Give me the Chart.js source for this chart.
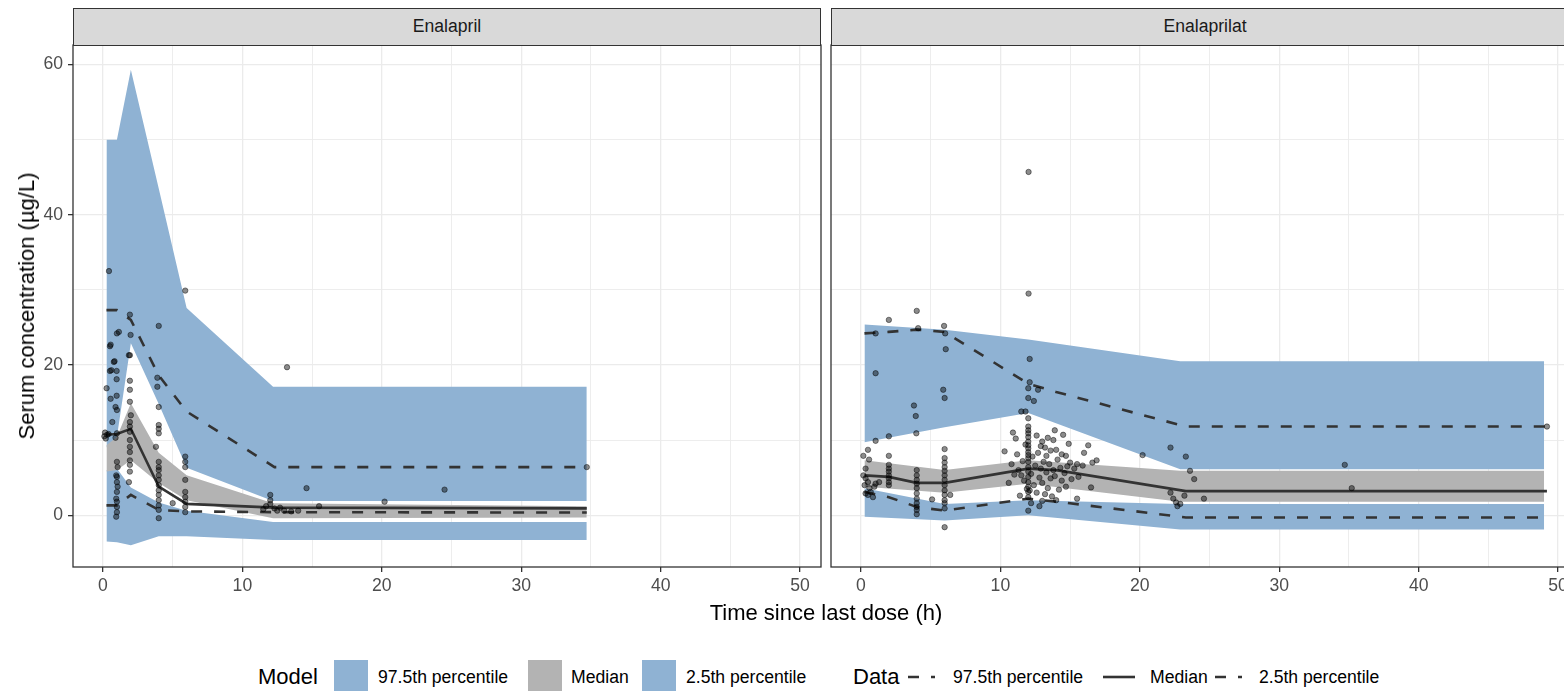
<!DOCTYPE html>
<html>
<head>
<meta charset="utf-8">
<title>Enalapril / Enalaprilat VPC</title>
<script src="https://cdn.jsdelivr.net/npm/chart.js@4.4.1/dist/chart.umd.min.js"></script>
<style>
  html, body { margin: 0; padding: 0; width: 1564px; height: 691px; overflow: hidden; background: #fff; }
  #wrap { position: relative; width: 1564px; height: 691px; overflow: hidden; font-family: "Liberation Sans", Arial, sans-serif; }
  #wrap canvas { position: absolute; top: 0; }
  .strip { position: absolute; top: 8px; height: 38px; box-sizing: border-box; background: #D9D9D9; border: 1.3px solid #333333;
           font-size: 17.6px; color: #1A1A1A; text-align: center; line-height: 35px; }
  .title { position: absolute; font-size: 22px; line-height: 22px; color: #000; white-space: nowrap; }
  .lg { position: absolute; white-space: nowrap; color: #000; }
  .lg.txt { font-size: 17.6px; line-height: 18px; top: 668px; }
  .lg.head { font-size: 22px; line-height: 22px; top: 666px; }
  .lg.box { top: 660px; width: 34px; height: 34px; }
  .lg.key { top: 659px; }
</style>
</head>
<body>
<div id="wrap">
  <canvas id="panelEnalapril" width="826" height="610" style="left:0px"></canvas>
  <canvas id="panelEnalaprilat" width="760" height="610" style="left:826px"></canvas>

  <div class="strip" style="left:73px;width:748px">Enalapril</div>
  <div class="strip" style="left:831px;width:748px">Enalaprilat</div>

  <div class="title" style="left:27px;top:306px;transform:translate(-50%,-50%) rotate(-90deg)">Serum concentration (µg/L)</div>
  <div class="title" style="left:826px;top:602px;transform:translateX(-50%)">Time since last dose (h)</div>

  <!-- legend -->
  <div class="lg head" style="left:258px">Model</div>
  <div class="lg box" style="left:334px;background:#8FB2D3"></div>
  <div class="lg txt" style="left:378px">97.5th percentile</div>
  <div class="lg box" style="left:528px;background:#B3B3B3"></div>
  <div class="lg txt" style="left:571px">Median</div>
  <div class="lg box" style="left:642px;background:#8FB2D3"></div>
  <div class="lg txt" style="left:686px">2.5th percentile</div>

  <div class="lg head" style="left:853px">Data</div>
  <svg class="lg key" style="left:905px" width="36" height="36"><line x1="3" y1="18" x2="30" y2="18" stroke="#333333" stroke-width="2.6" stroke-dasharray="11 12"/></svg>
  <div class="lg txt" style="left:953px">97.5th percentile</div>
  <svg class="lg key" style="left:1101px" width="36" height="36"><line x1="2" y1="18" x2="34" y2="18" stroke="#333333" stroke-width="2.6"/></svg>
  <div class="lg txt" style="left:1150px">Median</div>
  <svg class="lg key" style="left:1212px" width="36" height="36"><line x1="3" y1="18" x2="30" y2="18" stroke="#333333" stroke-width="2.6" stroke-dasharray="11 12"/></svg>
  <div class="lg txt" style="left:1259px">2.5th percentile</div>
</div>

<script>
// ---- axis ticks -------------------------------------------------------
const xTickLabels = [0, 10, 20, 30, 40, 50];
const xGridValues = [0, 5, 10, 15, 20, 25, 30, 35, 40, 45, 50];
const yTickLabels = [0, 20, 40, 60];
const yGridValues = [0, 10, 20, 30, 40, 50, 60];

// ---- Enalapril: simulated percentile bands (model) ---------------------
const enalaprilModelTime  = [0.25, 1, 2, 4, 6, 12.2, 34.7];
const enalaprilP975Upper  = [50, 50, 59.3, 43.5, 27.6, 17.1, 17.1];
const enalaprilP975Lower  = [9.0, 10.4, 22.9, 14.8, 6.3, 1.9, 1.9];
const enalaprilMedUpper   = [9.3, 10.4, 14.9, 8.3, 5.3, 1.6, 1.2];
const enalaprilMedLower   = [5.8, 6.0, 7.3, 4.3, 2.0, -0.4, -0.3];
const enalaprilP025Upper  = [6.0, 6.2, 3.7, 1.7, 0.6, -0.9, -0.9];
const enalaprilP025Lower  = [-3.5, -3.6, -4.0, -2.8, -2.8, -3.3, -3.3];

// ---- Enalapril: observed percentiles ------------------------------------
const enalaprilObsTime    = [0.25, 1, 2, 4, 6, 12.3, 34.7];
const enalaprilObsP975    = [27.3, 27.3, 26.0, 18.6, 13.8, 6.4, 6.4];
const enalaprilObsMedian  = [10.7, 10.8, 11.5, 3.8, 1.5, 1.0, 0.9];
const enalaprilObsP025    = [1.3, 1.3, 2.7, 0.7, 0.5, 0.4, 0.35];

// ---- Enalapril: observations -------------------------------------------
const enalaprilSampleTime = [
  0.43, 5.9, 1.93, 1.14, 1.0, 4.0, 1.98, 0.55, 0.5, 1.93, 1.86, 0.83, 0.78, 0.5, 0.98, 0.6, 0.98, 3.9, 1.93, 0.26,
  1.93, 3.9, 0.98, 0.55, 1.93, 4.0, 0.9, 1.0, 2.0, 0.67, 1.93, 4.0, 4.0, 4.0, 0.1, 0.15, 0.3, 0.4, 0.2, 1.0,
  0.9, 1.93, 1.93, 1.93, 1.93, 1.93, 1.93, 1.93, 1.93, 1.86, 3.8, 4.0, 4.0, 4.0, 4.0, 4.0, 4.0, 4.0, 4.0, 4.0,
  4.0, 4.0, 4.0, 1.0, 1.05, 0.95, 1.0, 1.0, 1.05, 1.0, 0.95, 1.0, 1.0, 1.0, 0.95, 5.9, 5.9, 5.9, 5.9, 5.9,
  5.9, 5.9, 5.9, 5.9, 5.0, 13.2, 14.6, 15.5, 12.0, 12.0, 12.0, 11.7, 12.3, 12.5, 13.0, 13.5, 11.5, 12.7, 14.0, 20.2,
  24.5, 34.7
];
const enalaprilSampleConc = [
  32.5, 29.9, 26.7, 24.4, 24.2, 25.2, 24.0, 22.7, 22.5, 21.3, 21.3, 20.5, 20.4, 19.2, 19.2, 19.3, 18.1, 18.3, 17.9, 16.9,
  16.7, 17.1, 15.9, 15.5, 15.1, 14.4, 14.4, 14.0, 13.3, 12.4, 12.4, 12.0, 11.5, 10.9, 10.5, 11.0, 10.7, 10.8, 10.2, 10.9,
  10.3, 11.8, 11.1, 10.0, 9.1, 8.4, 7.3, 6.7, 5.8, 4.4, 9.1, 7.1, 6.4, 6.0, 5.3, 4.7, 4.0, 3.3, 2.7, 2.0,
  1.3, 0.7, -0.4, 7.1, 6.4, 5.3, 5.1, 4.4, 3.8, 3.1, 2.2, 1.8, 1.1, 0.4, -0.2, 7.8, 7.1, 6.4, 4.7, 3.1,
  2.4, 1.8, 1.1, 0.4, 1.6, 19.7, 3.6, 1.2, 2.7, 2.0, 1.5, 1.2, 0.9, 0.6, 0.6, 0.5, 0.8, 1.0, 0.6, 1.8,
  3.4, 6.4
];

// ---- Enalaprilat: simulated percentile bands (model) -------------------
const enalaprilatModelTime = [0.25, 6, 12, 22.9, 49];
const enalaprilatP975Upper = [25.4, 24.7, 23.4, 20.5, 20.5];
const enalaprilatP975Lower = [9.7, 11.7, 13.6, 6.1, 6.1];
const enalaprilatMedUpper  = [7.3, 6.0, 7.3, 5.9, 5.9];
const enalaprilatMedLower  = [3.8, 3.0, 4.2, 1.8, 1.8];
const enalaprilatP025Upper = [3.6, 1.5, 2.0, 1.5, 1.5];
const enalaprilatP025Lower = [-0.2, -0.7, 0.0, -1.9, -1.9];

// ---- Enalaprilat: observed percentiles ----------------------------------
const enalaprilatObsTime   = [0.25, 2, 4, 6, 12, 14, 23.3, 49.2];
const enalaprilatObsP975   = [24.2, 24.4, 24.7, 24.4, 17.5, 16.4, 11.8, 11.8];
const enalaprilatObsMedian = [5.3, 5.1, 4.3, 4.3, 6.2, 6.0, 3.2, 3.2];
const enalaprilatObsP025   = [3.1, 2.4, 1.1, 0.6, 2.2, 1.8, -0.3, -0.3];

// ---- Enalaprilat: observations -----------------------------------------
const enalaprilatSampleTime = [
  0.33, 0.17, 0.33, 0.5, 0.26, 0.6, 0.96, 0.7, 1.05, 1.3, 0.33, 0.5, 0.86, 0.17, 0.5, 0.58,
  2.0, 2.0, 2.0, 2.0, 2.0, 2.0, 2.0, 2.0, 2.0, 2.0,
  4.0, 4.1, 3.8, 3.93, 3.97, 4.0, 4.0, 4.0, 4.0, 4.0, 4.0, 4.0, 4.0, 4.0, 4.0, 4.0,
  5.96, 6.04, 6.08, 5.9, 6.0, 6.0, 6.0, 6.0, 6.0, 6.0, 6.0, 6.0, 6.0, 6.0, 6.0, 6.0, 6.0, 6.0, 6.0, 6.4, 5.1,
  1.05, 1.05, 1.05,
  12.02, 12.02, 12.1, 12.1, 12.0, 12.7, 12.0, 12.4, 11.5, 11.8, 12.0,
  12.0, 12.0, 12.0, 12.0, 12.0, 12.0, 12.0, 12.0, 12.0, 12.0, 12.0, 12.0, 12.0, 12.0, 12.0, 12.0, 12.0, 12.0, 12.0,
  10.9, 10.3, 11.1, 13.0, 13.4, 13.8, 13.2, 14.0, 13.9, 14.5, 16.3, 16.0, 14.7, 15.0, 15.5, 15.3, 15.9, 16.6, 16.9,
  15.6, 14.7, 15.5, 16.5,
  11.3, 11.5, 11.6, 11.7, 11.9, 12.2, 12.3, 12.4, 12.5, 12.6, 12.7, 12.8, 12.9, 13.0, 13.1, 13.2, 13.3, 13.4, 13.5,
  13.6, 13.7, 13.8, 13.9, 14.1, 14.2, 14.3, 14.4, 14.6, 14.8, 15.1, 11.4, 11.8, 12.1, 13.6, 12.9, 14.9, 11.2, 12.6,
  13.3, 14.4, 10.8, 11.0, 10.6, 12.2, 13.0, 14.0, 12.8,
  20.2, 22.2, 23.3, 23.6, 23.9, 24.6, 22.2, 22.4, 22.6, 22.9, 23.2, 22.7, 34.7, 35.2, 49.2
];
const enalaprilatSampleConc = [
  6.2, 5.3, 4.9, 4.4, 4.0, 3.6, 3.8, 3.1, 4.2, 4.4, 2.9, 2.7, 2.4, 7.9, 8.7, 7.4,
  26.0, 10.5, 7.9, 6.7, 6.2, 5.8, 5.3, 4.9, 4.4, 4.0,
  27.2, 24.9, 14.6, 13.2, 10.9, 6.0, 5.3, 4.7, 4.2, 3.6, 2.9, 2.2, 1.6, 1.1, 0.7, 0.13,
  25.2, 24.2, 22.1, 16.7, 15.6, 8.8, 7.6, 7.0, 6.4, 5.9, 5.3, 4.7, 4.0, 3.3, 2.0, 1.6, 0.9, -1.6, 2.7, 2.7, 2.1,
  24.2, 18.9, 9.9,
  45.7, 29.5, 20.8, 17.7, 16.9, 16.7, 15.6, 15.2, 13.8, 13.8, 12.9,
  11.8, 11.3, 10.9, 10.4, 9.8, 9.3, 8.9, 8.4, 8.0, 7.6, 7.1, 6.4, 5.8, 5.1, 4.4, 3.8, 3.1, 2.4, 0.6,
  11.0, 8.5, 10.2, 9.8, 10.3, 10.0, 9.0, 8.7, 11.3, 10.7, 9.3, 8.3, 7.9, 7.0, 6.8, 6.2, 6.6, 7.0, 7.3,
  5.1, 3.8, 2.2, 3.7,
  6.0, 5.3, 7.2, 4.6, 3.5, 5.5, 7.8, 4.0, 6.6, 3.0, 8.3, 5.0, 6.2, 4.3, 7.1, 2.8, 5.7, 3.6, 6.8,
  4.9, 2.5, 6.0, 5.2, 7.4, 3.4, 6.3, 4.6, 5.6, 6.5, 4.8, 2.6, 9.4, 3.3, 8.6, 9.2, 9.5, 8.1, 10.6,
  7.9, 8.1, 6.8, 5.4, 4.3, 1.6, 1.9, 2.0, 1.2,
  8.0, 9.0, 7.8, 5.9, 4.8, 2.2, 3.0, 2.2, 1.7, 1.5, 2.6, 1.2, 6.7, 3.6, 11.8
];

// ---- styling -----------------------------------------------------------
const BAND_BLUE = '#8FB2D3';
const BAND_GREY = '#B3B3B3';
const LINE_DARK = '#333333';
const TICK_FONT = { family: '"Liberation Sans", Arial, sans-serif', size: 17.6 };

const pts = (xs, ys) => xs.map((x, i) => ({ x: x, y: ys[i] }));

function bandPair(label, xs, hi, lo, colour, order) {
  const base = { borderColor: 'rgba(0,0,0,0)', borderWidth: 0, pointRadius: 0, tension: 0, order: order };
  return [
    Object.assign({ label: label + ' hi', data: pts(xs, hi), fill: '+1', backgroundColor: colour }, base),
    Object.assign({ label: label + ' lo', data: pts(xs, lo), fill: false }, base)
  ];
}

function obsLine(label, xs, ys, dashed) {
  return { label: label, data: pts(xs, ys), borderColor: LINE_DARK, borderWidth: 2.6, borderDash: dashed ? [11, 12] : [],
           pointRadius: 0, fill: false, tension: 0, order: 10 };
}

const panelFrame = {
  id: 'panelFrame',
  afterDatasetsDraw(chart) {
    const a = chart.chartArea, c = chart.ctx;
    c.save();
    c.strokeStyle = '#333333';
    c.lineWidth = 1.3;
    c.strokeRect(a.left, a.top, a.right - a.left, a.bottom - a.top);
    c.restore();
  }
};

function makePanel(canvasId, m, showY) {
  const datasets = [].concat(
    bandPair('Model 97.5th percentile', m.modelT, m.p975Hi, m.p975Lo, BAND_BLUE, 30),
    bandPair('Model 2.5th percentile', m.modelT, m.p025Hi, m.p025Lo, BAND_BLUE, 29),
    bandPair('Model median', m.modelT, m.medHi, m.medLo, BAND_GREY, 28),
    [
      obsLine('Data 97.5th percentile', m.obsT, m.obs975, true),
      obsLine('Data median', m.obsT, m.obsMed, false),
      obsLine('Data 2.5th percentile', m.obsT, m.obs025, true),
      { label: 'Observations', data: pts(m.sampleT, m.sampleC), showLine: false,
        pointRadius: 2.7, pointBorderWidth: 1,
        pointBackgroundColor: 'rgba(0,0,0,0.45)', pointBorderColor: 'rgba(0,0,0,0.45)', order: 1 }
    ]
  );

  return new Chart(document.getElementById(canvasId), {
    type: 'line',
    data: { datasets: datasets },
    plugins: [panelFrame],
    options: {
      responsive: false,
      animation: false,
      events: [],
      layout: { padding: { top: 45, bottom: 0, left: showY ? 0 : 5, right: showY ? 5 : 7 } },
      plugins: { legend: { display: false }, tooltip: { enabled: false } },
      scales: {
        x: {
          type: 'linear', min: -2.15, max: 51.5,
          afterBuildTicks: s => { s.ticks = xGridValues.map(v => ({ value: v })); },
          afterFit: s => { s.height = 43; },
          border: { display: false },
          grid: {
            color: '#EBEBEB',
            lineWidth: ctx => (xTickLabels.includes(ctx.tick.value) ? 1.3 : 0.9),
            tickLength: 5,
            tickColor: ctx => (xTickLabels.includes(ctx.tick.value) ? '#333333' : 'rgba(0,0,0,0)'),
            tickWidth: 1.3
          },
          ticks: {
            font: TICK_FONT, color: '#4D4D4D', padding: 4, maxRotation: 0, autoSkip: false,
            callback: v => (xTickLabels.includes(v) ? String(v) : '')
          }
        },
        y: {
          type: 'linear', min: -6.9, max: 62.6,
          afterBuildTicks: s => { s.ticks = yGridValues.map(v => ({ value: v })); },
          afterFit: s => { s.width = showY ? 73 : 0; },
          border: { display: false },
          grid: {
            color: '#EBEBEB',
            lineWidth: ctx => (yTickLabels.includes(ctx.tick.value) ? 1.3 : 0.9),
            drawTicks: showY,
            tickLength: 5,
            tickColor: ctx => (yTickLabels.includes(ctx.tick.value) ? '#333333' : 'rgba(0,0,0,0)'),
            tickWidth: 1.3
          },
          ticks: {
            display: showY, font: TICK_FONT, color: '#4D4D4D', padding: 5, autoSkip: false,
            callback: v => (yTickLabels.includes(v) ? String(v) : '')
          }
        }
      }
    }
  });
}

makePanel('panelEnalapril', {
  modelT: enalaprilModelTime,
  p975Hi: enalaprilP975Upper, p975Lo: enalaprilP975Lower,
  medHi: enalaprilMedUpper, medLo: enalaprilMedLower,
  p025Hi: enalaprilP025Upper, p025Lo: enalaprilP025Lower,
  obsT: enalaprilObsTime, obs975: enalaprilObsP975, obsMed: enalaprilObsMedian, obs025: enalaprilObsP025,
  sampleT: enalaprilSampleTime, sampleC: enalaprilSampleConc
}, true);

makePanel('panelEnalaprilat', {
  modelT: enalaprilatModelTime,
  p975Hi: enalaprilatP975Upper, p975Lo: enalaprilatP975Lower,
  medHi: enalaprilatMedUpper, medLo: enalaprilatMedLower,
  p025Hi: enalaprilatP025Upper, p025Lo: enalaprilatP025Lower,
  obsT: enalaprilatObsTime, obs975: enalaprilatObsP975, obsMed: enalaprilatObsMedian, obs025: enalaprilatObsP025,
  sampleT: enalaprilatSampleTime, sampleC: enalaprilatSampleConc
}, false);
</script>
</body>
</html>
